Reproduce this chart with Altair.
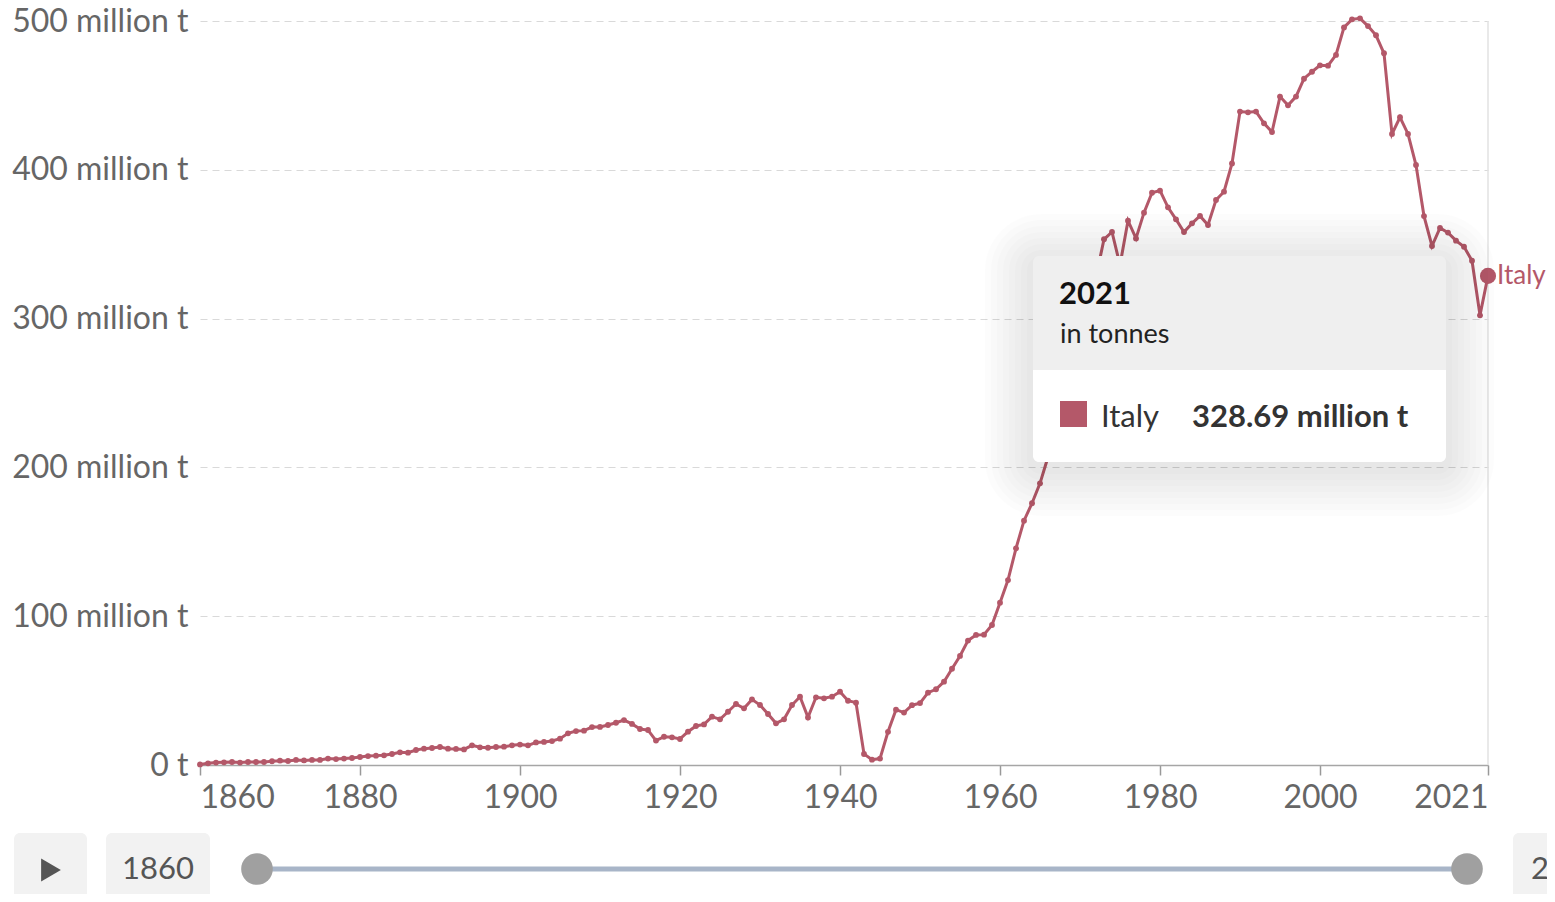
import altair as alt
import pandas as pd

# ---------------- data ----------------
years = list(range(1860, 2022))
emissions = [
    0.4, 1.1, 1.6, 1.8, 2.0, 1.6, 2.0, 2.0, 2.0, 2.5,            # 1860-1869
    2.9, 2.7, 3.4, 3.1, 3.4, 3.4, 4.3, 4.0, 4.3, 4.7,            # 1870-1879
    5.4, 6.0, 6.3, 6.5, 7.4, 8.5, 8.3, 10.1, 11.0, 11.4,         # 1880-1889
    12.1, 11.0, 10.8, 10.5, 13.2, 11.9, 11.6, 12.1, 12.3, 13.2,  # 1890-1899
    13.7, 13.2, 15.2, 15.5, 16.1, 17.7, 21.3, 22.8, 23.1, 25.5,  # 1900-1909
    25.6, 26.9, 28.4, 30.2, 27.6, 24.2, 23.5, 16.4, 19.0, 18.6,  # 1910-1919
    17.5, 22.4, 26.2, 27.3, 32.5, 30.7, 35.8, 41.0, 38.1, 44.1,  # 1920-1929
    40.3, 34.3, 28.0, 30.7, 40.3, 45.9, 32.0, 45.5, 44.8, 45.9,  # 1930-1939
    49.3, 43.2, 41.9, 7.4, 3.6, 4.3, 22.3, 37.2, 35.2, 40.2,     # 1940-1949
    41.6, 48.6, 50.9, 56.0, 64.7, 73.3, 83.6, 87.4, 87.6, 94.1,  # 1950-1959
    109.1, 124.3, 145.6, 164.2, 175.9, 189.3, 207.0, 228.0, 250.0, 272.0,  # 1960-1969
    300.0, 312.0, 328.0, 353.3, 358.2, 336.0, 365.8, 353.9, 371.2, 384.6,  # 1970-1979
    386.0, 374.8, 366.7, 358.2, 364.0, 369.0, 362.9, 379.7, 385.3, 404.3,  # 1980-1989
    439.1, 438.6, 439.1, 431.2, 425.4, 449.2, 443.3, 449.2, 461.2, 465.9,  # 1990-1999
    470.2, 470.0, 477.2, 495.7, 501.1, 501.8, 496.6, 490.4, 478.3, 424.1,  # 2000-2009
    435.3, 424.1, 403.2, 368.9, 348.8, 360.9, 357.8, 352.4, 348.3, 338.9,  # 2010-2019
    302.2, 328.69,                                                          # 2020-2021
]
series_name = "Italy"
x_ticks = [1860, 1880, 1900, 1920, 1940, 1960, 1980, 2000, 2021]
y_ticks = [0, 100, 200, 300, 400, 500]
tooltip_year = ["2021"]
tooltip_unit = ["in tonnes"]
tooltip_entity = ["Italy"]
tooltip_value = ["328.69 million t"]
timeline_start = ["1860"]
timeline_end = ["2021"]

df = pd.DataFrame({"year": years, "value": emissions, "entity": series_name})
last = df[df["year"] == 2021]
one = pd.DataFrame({"k": [0]})

FONT = "Lato"
COLOR = "#b45869"
W, H = 1288, 744

x_enc = alt.X(
    "year:Q",
    title=None,
    scale=alt.Scale(domain=[1860, 2021], nice=False, zero=False),
    axis=alt.Axis(
        values=x_ticks, format="d", grid=False, labelFlush=True,
        labelFontSize=32, labelColor="#666", labelFont=FONT, labelPadding=7,
        tickSize=10, tickColor="#999", domainColor="#a6a6a6", tickWidth=1.5, domainWidth=1.5,
    ),
)
y_enc = alt.Y(
    "value:Q",
    title=None,
    scale=alt.Scale(domain=[0, 500], nice=False),
    axis=alt.Axis(
        values=y_ticks,
        labelExpr="datum.value == 0 ? '0 t' : datum.value + ' million t'",
        grid=True, gridDash=[7, 5], gridColor="#d9d9d9", gridWidth=1.2,
        domain=False, ticks=False, labelPadding=12,
        labelFontSize=32, labelColor="#666", labelFont=FONT, labelBaseline="middle",
    ),
)

hover_rule = alt.Chart(last).mark_rule(color="#e2e2e2", strokeWidth=1.5).encode(
    x=x_enc, y=alt.value(0), y2=alt.value(H)
)
line = alt.Chart(df).mark_line(color=COLOR, strokeWidth=3).encode(x=x_enc, y=y_enc)
pts = alt.Chart(df).mark_circle(color=COLOR, size=34, opacity=1).encode(x=x_enc, y=y_enc)
big = alt.Chart(last).mark_circle(color=COLOR, size=260, opacity=1).encode(x=x_enc, y=y_enc)
lab = alt.Chart(last).mark_text(
    align="left", baseline="middle", dx=9, fontSize=26, font=FONT, color=COLOR
).encode(x=x_enc, y=y_enc, text="entity:N")

# ---------------- tooltip ----------------
TX0, TX1, TY0, TY1, TYH = 833, 1246, 235, 441, 349
shadows = []
for i in range(1, 9):
    e = i * 6
    shadows.append(
        alt.Chart(one).mark_rect(color="#000", opacity=0.012, cornerRadius=8 + e).encode(
            x=alt.value(TX0 - e), x2=alt.value(TX1 + e),
            y=alt.value(TY0 - e + 6), y2=alt.value(TY1 + e + 6),
        )
    )
tip_head = alt.Chart(one).mark_rect(
    color="#efefef", cornerRadiusTopLeft=6, cornerRadiusTopRight=6
).encode(x=alt.value(TX0), x2=alt.value(TX1), y=alt.value(TY0), y2=alt.value(TYH))
tip_body = alt.Chart(one).mark_rect(
    color="#ffffff", cornerRadiusBottomLeft=6, cornerRadiusBottomRight=6
).encode(x=alt.value(TX0), x2=alt.value(TX1), y=alt.value(TYH), y2=alt.value(TY1))
tip_swatch = alt.Chart(one).mark_rect(color=COLOR).encode(
    x=alt.value(860), x2=alt.value(887), y=alt.value(380), y2=alt.value(406)
)
tip_year = alt.Chart(pd.DataFrame({"t": tooltip_year})).mark_text(
    align="left", baseline="middle", fontSize=31, fontWeight="bold", font=FONT, color="#111"
).encode(x=alt.value(859), y=alt.value(274), text="t:N")
tip_unit = alt.Chart(pd.DataFrame({"t": tooltip_unit})).mark_text(
    align="left", baseline="middle", fontSize=27, font=FONT, color="#222"
).encode(x=alt.value(860), y=alt.value(314), text="t:N")
tip_ent = alt.Chart(pd.DataFrame({"t": tooltip_entity})).mark_text(
    align="left", baseline="middle", fontSize=31, font=FONT, color="#333"
).encode(x=alt.value(901), y=alt.value(397), text="t:N")
tip_val = alt.Chart(pd.DataFrame({"t": tooltip_value})).mark_text(
    align="left", baseline="middle", fontSize=31, fontWeight="bold", font=FONT, color="#333"
).encode(x=alt.value(992), y=alt.value(397), text="t:N")

# ---------------- timeline controls ----------------
CY = 848
play_box = alt.Chart(one).mark_rect(color="#f2f2f2", cornerRadius=6).encode(
    x=alt.value(-186), x2=alt.value(-113), y=alt.value(812), y2=alt.value(900)
)
play_tri = alt.Chart(one).mark_point(
    shape="triangle-right", filled=True, size=520, color="#555", opacity=1
).encode(x=alt.value(-149), y=alt.value(CY + 1))
start_box = alt.Chart(one).mark_rect(color="#f2f2f2", cornerRadius=6).encode(
    x=alt.value(-94), x2=alt.value(10), y=alt.value(812), y2=alt.value(900)
)
start_txt = alt.Chart(pd.DataFrame({"t": timeline_start})).mark_text(
    align="center", baseline="middle", fontSize=31, font=FONT, color="#555"
).encode(x=alt.value(-42), y=alt.value(CY + 1), text="t:N")
track = alt.Chart(one).mark_rule(color="#a8b5c8", strokeWidth=5).encode(
    x=alt.value(70), x2=alt.value(1255), y=alt.value(CY)
)
handles = alt.Chart(pd.DataFrame({"px": [57, 1267]})).mark_circle(
    color="#a0a0a0", size=1000, opacity=1
).encode(x=alt.X("px:Q", scale=None), y=alt.value(CY))
end_box = alt.Chart(one).mark_rect(color="#f2f2f2", cornerRadius=6).encode(
    x=alt.value(1313), x2=alt.value(1420), y=alt.value(812), y2=alt.value(900)
)
end_txt = alt.Chart(pd.DataFrame({"t": timeline_end})).mark_text(
    align="left", baseline="middle", fontSize=31, font=FONT, color="#555"
).encode(x=alt.value(1331), y=alt.value(CY + 1), text="t:N")

chart = alt.layer(
    hover_rule, line, pts, big, lab,
    *shadows, tip_head, tip_body, tip_swatch, tip_year, tip_unit, tip_ent, tip_val,
    play_box, play_tri, start_box, start_txt, track, handles, end_box, end_txt,
).properties(
    width=W, height=H,
    autosize=alt.AutoSizeParams(type="none"),
    padding={"left": 192, "top": 13, "right": 59, "bottom": 129},
).configure(font=FONT).configure_view(strokeWidth=0, stroke="transparent")

chart.save("out.html", embed_options={"renderer": "svg", "actions": False})
